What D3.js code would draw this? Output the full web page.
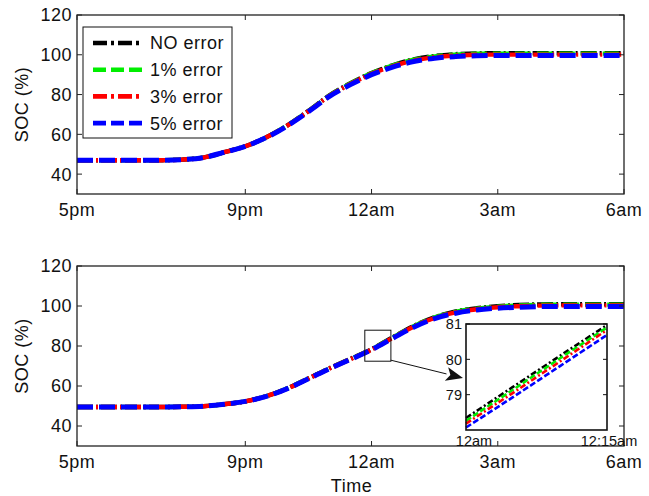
<!DOCTYPE html>
<html><head><meta charset="utf-8">
<script src="https://cdn.jsdelivr.net/npm/d3@7"></script>
<style>
body{margin:0;background:#fff;}
text{font-family:"Liberation Sans",Arial,Helvetica,sans-serif;fill:#111;}
</style></head>
<body><svg id="c" width="649" height="496"></svg>
<script>
// ---------- data ----------
const hours = [0,0.5,1,1.5,2,2.5,3,3.5,4,4.5,5,5.5,6,6.5,7,7.5,8,8.5,9,9.5,10,10.5,11,11.5,12,12.5,13]; // hours after 5pm
const xTickHours = [0,4,7,10,13];
const xTickLabels = ["5pm","9pm","12am","3am","6am"];
const yTicks = [40,60,80,100,120];
const seriesNames = ["NO error","1% error","3% error","5% error"];
const seriesColors = ["#000000","#00ee00","#ff0000","#0000ff"];

const topNo = [47,47,47,47,47,47.3,48.3,51,54,58.5,64.5,71.8,79.6,85.7,90.8,94.7,97.7,99.4,100.3,100.7,100.8,100.8,100.8,100.8,100.8,100.8,100.8];
const top1  = [47,47,47,47,47,47.3,48.3,51,54,58.5,64.5,71.7,79.5,85.6,90.7,94.6,97.5,99.2,100.1,100.5,100.6,100.6,100.6,100.6,100.6,100.6,100.6];
const top3  = [47,47,47,47,47,47.3,48.3,51,54,58.5,64.4,71.6,79.3,85.3,90.4,94.2,97.1,98.8,99.6,100,100.1,100.1,100.1,100.1,100.1,100.1,100.1];
const top5  = [47,47,47,47,47,47.3,48.3,51,54,58.4,64.3,71.4,79.1,85.0,90.0,93.8,96.6,98.3,99.1,99.5,99.6,99.6,99.6,99.6,99.6,99.6,99.6];

const botNo = [49.5,49.5,49.5,49.5,49.5,49.6,49.9,50.9,52.3,54.9,58.8,63.8,68.9,73.6,78.4,84.3,90.0,94.4,97.3,98.9,99.9,100.5,100.8,100.9,100.9,100.9,100.9];
const bot1  = [49.5,49.5,49.5,49.5,49.5,49.6,49.9,50.9,52.3,54.9,58.8,63.8,68.8,73.5,78.3,84.2,89.9,94.3,97.1,98.7,99.7,100.3,100.6,100.7,100.7,100.7,100.7];
const bot3  = [49.5,49.5,49.5,49.5,49.5,49.6,49.9,50.9,52.3,54.9,58.7,63.7,68.7,73.4,78.2,84.0,89.7,94.0,96.8,98.4,99.4,99.9,100.2,100.3,100.3,100.3,100.3];
const bot5  = [49.5,49.5,49.5,49.5,49.5,49.6,49.9,50.9,52.3,54.8,58.7,63.6,68.6,73.3,78.1,83.8,89.4,93.7,96.4,98.0,98.9,99.4,99.7,99.8,99.8,99.8,99.8];

// inset (zoom 12am - 12:15am)
const insetMinutes = [0,5,10,15];
const insetNo = [78.34,79.22,80.10,80.97];
const inset1  = [78.26,79.14,80.03,80.90];
const inset3  = [78.18,79.05,79.94,80.83];
const inset5  = [78.07,78.93,79.81,80.69];
const insetYTicks = [79,80,81];
const insetXTickMin = [0,15];
const insetXTickLabels = ["12am","12:15am"];
// zoom box region (hours after 5pm, SOC)
const zoomBox = {h0:6.84, h1:7.46, v0:72.4, v1:87.9};

// ---------- drawing ----------
const svg = d3.select("#c");
const L = 77, R = 624;
const panels = [
  {top:15, bottom:194, series:[topNo,top1,top3,top5]},
  {top:266, bottom:446, series:[botNo,bot1,bot3,bot5]}
];
const x = d3.scaleLinear().domain([0,13]).range([L,R]);
const dashes = ["16,3,2,3","16,6","16,3,2,3","16,6"];
const legendDashes = ["14,4,3,4","13,5","14,4,3,4","13,5"];
const FS = 18;
const LS = "0.5";

panels.forEach((p,pi)=>{
  const y = d3.scaleLinear().domain([30,120]).range([p.bottom,p.top]);
  p.y = y;
  const g = svg.append("g");
  const line = d3.line().x((d,i)=>x(hours[i])).y(d=>y(d)).curve(d3.curveMonotoneX);
  p.series.forEach((s,si)=>{
    g.append("path").attr("d",line(s)).attr("fill","none")
      .attr("stroke",seriesColors[si]).attr("stroke-width",si===3?5:4.4)
      .attr("stroke-dasharray",dashes[si]);
  });
  g.append("rect").attr("x",L).attr("y",p.top).attr("width",R-L).attr("height",p.bottom-p.top)
    .attr("fill","none").attr("stroke","#222").attr("stroke-width",1.3);
  xTickHours.forEach((h,i)=>{
    const xx = x(h);
    g.append("line").attr("x1",xx).attr("x2",xx).attr("y1",p.bottom).attr("y2",p.bottom-5).attr("stroke","#222");
    g.append("line").attr("x1",xx).attr("x2",xx).attr("y1",p.top).attr("y2",p.top+5).attr("stroke","#222");
    g.append("text").attr("x",xx).attr("y",p.bottom+22).attr("text-anchor","middle")
      .attr("font-size",FS).attr("letter-spacing",LS).text(xTickLabels[i]);
  });
  yTicks.forEach(v=>{
    const yy = y(v);
    g.append("line").attr("x1",L).attr("x2",L+5).attr("y1",yy).attr("y2",yy).attr("stroke","#222");
    g.append("line").attr("x1",R).attr("x2",R-5).attr("y1",yy).attr("y2",yy).attr("stroke","#222");
    g.append("text").attr("x",L-5).attr("y",yy).attr("dy","0.36em").attr("text-anchor","end")
      .attr("font-size",FS).attr("letter-spacing",LS).text(v);
  });
  g.append("text").attr("transform",`translate(28,${(p.top+p.bottom)/2}) rotate(-90)`)
    .attr("text-anchor","middle").attr("font-size",FS).attr("letter-spacing",LS).text("SOC (%)");
});

svg.append("text").attr("x",(L+R)/2+1).attr("y",492).attr("text-anchor","middle")
  .attr("font-size",FS).attr("letter-spacing",LS).text("Time");

// legend
const lg = svg.append("g");
lg.append("rect").attr("x",83).attr("y",27).attr("width",149).attr("height",111)
  .attr("fill","#fff").attr("stroke","#111").attr("stroke-width",1);
seriesNames.forEach((n,i)=>{
  const yy = 43 + i*26.7;
  lg.append("line").attr("x1",93).attr("x2",143).attr("y1",yy).attr("y2",yy)
    .attr("stroke",seriesColors[i]).attr("stroke-width",4.6).attr("stroke-dasharray",legendDashes[i]);
  lg.append("text").attr("x",150).attr("y",yy).attr("dy","0.36em").attr("font-size",FS)
    .attr("letter-spacing",LS).text(n);
});

// zoom box in bottom panel
const yb = panels[1].y;
const bx0 = x(zoomBox.h0), bx1 = x(zoomBox.h1), by0 = yb(zoomBox.v1), by1 = yb(zoomBox.v0);
svg.append("rect").attr("x",bx0).attr("y",by0).attr("width",bx1-bx0).attr("height",by1-by0)
  .attr("fill","none").attr("stroke","#111").attr("stroke-width",1);

// inset
const ix = d3.scaleLinear().domain([0,15]).range([466,607]);
const iy = d3.scaleLinear().domain([78,81]).range([430,324]);
const ig = svg.append("g");
ig.append("rect").attr("x",466).attr("y",324).attr("width",141).attr("height",106).attr("fill","#fff");
const iline = d3.line().x((d,i)=>ix(insetMinutes[i])).y(d=>iy(d));
const idash = ["6,2.5,2,2.5","6,2.5","6,2.5,2,2.5","6,2.5"];
[insetNo,inset1,inset3,inset5].forEach((s,si)=>{
  ig.append("path").attr("d",iline(s)).attr("fill","none").attr("stroke",seriesColors[si])
    .attr("stroke-width",2.6).attr("stroke-dasharray",idash[si]);
});
ig.append("rect").attr("x",466).attr("y",324).attr("width",141).attr("height",106)
  .attr("fill","none").attr("stroke","#111").attr("stroke-width",1.6);
insetYTicks.forEach(v=>{
  const yy = iy(v);
  ig.append("line").attr("x1",466).attr("x2",470).attr("y1",yy).attr("y2",yy).attr("stroke","#111");
  ig.append("line").attr("x1",607).attr("x2",603).attr("y1",yy).attr("y2",yy).attr("stroke","#111");
  ig.append("text").attr("x",462).attr("y",yy).attr("dy","0.36em").attr("text-anchor","end")
    .attr("font-size",14.5).text(v);
});
insetXTickMin.forEach((m,i)=>{
  ig.append("text").attr("x",ix(m)+(i===0?8:2)).attr("y",446).attr("text-anchor","middle")
    .attr("font-size",14.5).text(insetXTickLabels[i]);
});

// arrow
const ax0 = bx1, ay0 = yb(72.9), ax1 = 463, ay1 = 378;
const ang = Math.atan2(ay1-ay0, ax1-ax0);
const hl = 17, hw = 7;
const bxh = ax1 - hl*Math.cos(ang), byh = ay1 - hl*Math.sin(ang);
svg.append("line").attr("x1",ax0).attr("y1",ay0).attr("x2",bxh).attr("y2",byh).attr("stroke","#111").attr("stroke-width",1);
svg.append("path").attr("d",`M${ax1},${ay1} L${bxh - hw*Math.sin(ang)},${byh + hw*Math.cos(ang)} L${bxh+4*Math.cos(ang)},${byh+4*Math.sin(ang)} L${bxh + hw*Math.sin(ang)},${byh - hw*Math.cos(ang)} Z`)
  .attr("fill","#111");
</script></body></html>
